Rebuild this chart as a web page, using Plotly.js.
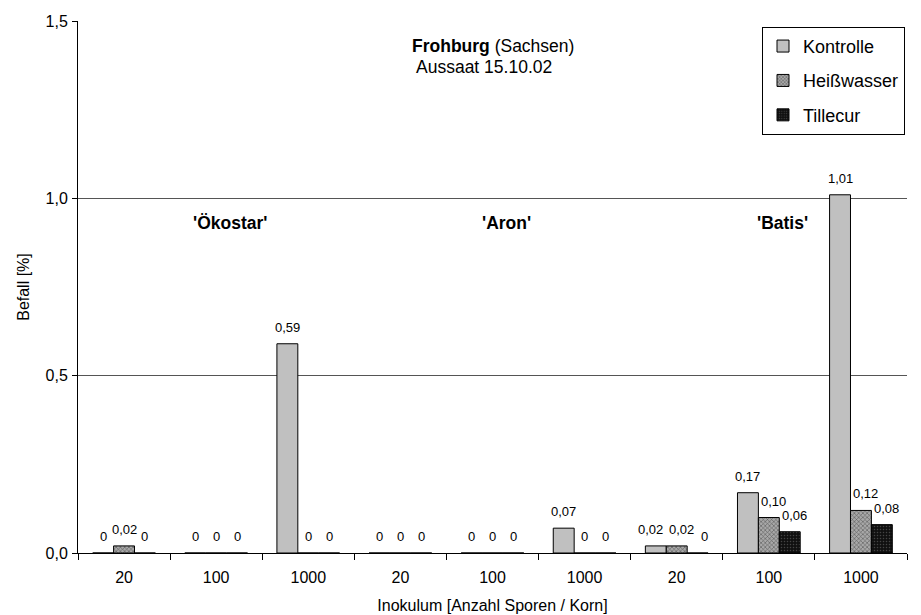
<!DOCTYPE html>
<html>
<head>
<meta charset="utf-8">
<script src="https://cdn.plot.ly/plotly-3.0.1.min.js"></script>
<style>html,body{margin:0;padding:0;background:#fff;}#chart{width:921px;height:615px;}</style>
</head>
<body>
<div id="chart"></div>
<script>
// Data
const tickLabels = ["20", "100", "1000", "20", "100", "1000", "20", "100", "1000"];
const varieties = ["'Ökostar'", "'Aron'", "'Batis'"];
const seriesNames = ["Kontrolle", "Heißwasser", "Tillecur"];
const kontrolle = [0, 0, 0.59, 0, 0, 0.07, 0.02, 0.17, 1.01];
const heisswasser = [0.02, 0, 0, 0, 0, 0, 0.02, 0.10, 0.12];
const tillecur = [0, 0, 0, 0, 0, 0, 0, 0.06, 0.08];

const xIdx = tickLabels.map((_, i) => i);
const barW = 0.227;
const fmt = v => v === 0 ? "0" : v.toFixed(2).replace(".", ",");
const FONT = "Liberation Sans, Arial, sans-serif";

const styles = [
  {color: "#c0c0c0"},
  {color: "#969696", pattern: {shape: "x", fgcolor: "#5a5a5a", bgcolor: "#a8a8a8", size: 3, solidity: 0.35}},
  {color: "#1a1a1a", pattern: {shape: ".", fgcolor: "#444444", bgcolor: "#101010", size: 3, solidity: 0.2}}
];
const allSeries = [kontrolle, heisswasser, tillecur];

const traces = [];
allSeries.forEach((vals, s) => {
  const m = Object.assign({line: {color: "#000", width: 1}}, styles[s]);
  traces.push({
    type: "bar", x: xIdx, y: vals, name: seriesNames[s], legendgroup: "g" + s,
    marker: m, hoverinfo: "skip"
  });
});
// invisible trace for boundary ticks axis
traces.push({type: "scatter", x: [-0.5, 8.5], y: [0, 0], xaxis: "x2", mode: "none", showlegend: false, hoverinfo: "skip"});

const annotations = [
  {text: "<b>Frohburg</b> (Sachsen)", xref: "paper", yref: "paper", x: 0.5006, y: 0.953, xanchor: "center", yanchor: "middle", showarrow: false, font: {size: 17.5}},
  {text: "Aussaat 15.10.02", xref: "paper", yref: "paper", x: 0.49, y: 0.9135, xanchor: "center", yanchor: "middle", showarrow: false, font: {size: 17.5}}
];
const groupCenters = [1, 4, 7];
varieties.forEach((v, i) => annotations.push({
  text: "<b>" + v + "</b>", xref: "x", yref: "y", x: groupCenters[i] + 0.15, y: 0.93,
  showarrow: false, font: {size: 17.5}
}));
// value labels (nudged sideways where neighbouring labels would crowd)
function labelShift(s, i) {
  const v = allSeries[s][i];
  if (kontrolle[i] === 0) return 0;
  if (s > 0 && v > 0) return 5;
  if (s === 0 && heisswasser[i] > 0 && Math.abs(kontrolle[i] - heisswasser[i]) < 0.03) return -5;
  if (s === 2 && v === 0 && heisswasser[i] > 0) return 7;
  return 0;
}
allSeries.forEach((vals, s) => {
  vals.forEach((v, i) => annotations.push({
    text: fmt(v), xref: "x", yref: "y", x: i + (s - 1) * barW, y: v,
    yanchor: "bottom", yshift: 7, xshift: labelShift(s, i), showarrow: false,
    font: {size: 13, family: FONT, color: "#000"}
  }));
});

const layout = {
  width: 921, height: 615,
  margin: {l: 78, r: 14, t: 21, b: 62},
  paper_bgcolor: "#fff", plot_bgcolor: "#fff",
  font: {family: FONT, color: "#000", size: 16},
  separators: ",.",
  barmode: "group", bargap: 1 - 3 * barW, bargroupgap: 0,
  showlegend: true,
  legend: {
    x: 0.9976, xanchor: "right", y: 0.989, yanchor: "top",
    bordercolor: "#000", borderwidth: 1, bgcolor: "#fff",
    font: {size: 18}, traceorder: "grouped", tracegroupgap: 8, itemwidth: 30
  },
  xaxis: {
    range: [-0.5, 8.5], tickvals: xIdx, ticktext: tickLabels,
    ticks: "outside", ticklen: 6, tickcolor: "rgba(0,0,0,0)", ticklabelstandoff: 4,
    showgrid: false, zeroline: false, showline: true, linecolor: "#000", linewidth: 1,
    tickfont: {size: 16}, fixedrange: true,
    title: {text: "Inokulum [Anzahl Sporen / Korn]", font: {size: 16}, standoff: 14}
  },
  xaxis2: {
    overlaying: "x", matches: "x", range: [-0.5, 8.5],
    tickvals: [-0.5, 0.5, 1.5, 2.5, 3.5, 4.5, 5.5, 6.5, 7.5, 8.5], showticklabels: false,
    ticks: "outside", ticklen: 6, tickcolor: "#000", showgrid: false, zeroline: false
  },
  yaxis: {
    range: [0, 1.5], tickvals: [0, 0.5, 1.0, 1.5], tickformat: ".1f",
    ticks: "outside", ticklen: 5, tickcolor: "#000", ticklabelstandoff: 1,
    showgrid: true, gridcolor: "#555", gridwidth: 1, zeroline: false,
    showline: true, linecolor: "#000", linewidth: 1, tickfont: {size: 16},
    title: {text: "Befall [%]", font: {size: 16}, standoff: 11}
  },
  annotations: annotations
};

Plotly.newPlot("chart", traces, layout, {displayModeBar: false, staticPlot: true});
</script>
</body>
</html>
